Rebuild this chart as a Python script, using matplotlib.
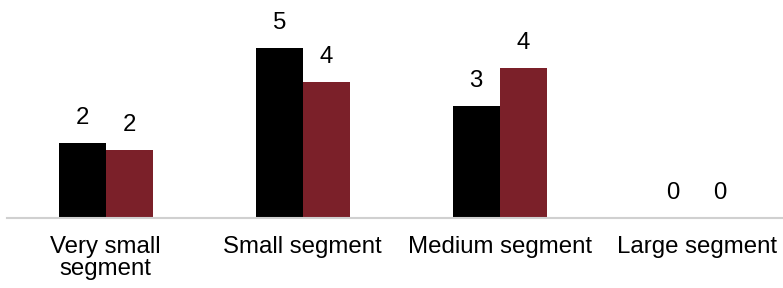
import matplotlib
matplotlib.use("Agg")
import matplotlib.pyplot as plt
import numpy as np

categories = ["Very small\nsegment", "Small segment", "Medium segment", "Large segment"]
series_a = [2.2, 5.0, 3.3, 0.0]
series_b = [2.0, 4.0, 4.4, 0.0]
labels_a = ["2", "5", "3", "0"]
labels_b = ["2", "4", "4", "0"]

plt.rcParams['font.family'] = ['Liberation Sans', 'DejaVu Sans']

W, H = 783, 288
fig = plt.figure(figsize=(W/100, H/100), dpi=100)
left_px = 7.2
group_px = 197.0
base_px = 217.7
ax = fig.add_axes([left_px/W, (H-base_px)/H, (W-left_px)/W, base_px/H])

x = np.arange(len(categories))
bw = 47.0/group_px
ax.bar(x - bw/2, series_a, width=bw, color="#000000")
ax.bar(x + bw/2, series_b, width=bw, color="#7B2029")

fs = 17.3
for xi, v, t in zip(x - bw/2, series_a, labels_a):
    ax.annotate(t, (xi, v), xytext=(0, 10), textcoords="offset points",
                ha="center", va="bottom", fontsize=fs, color="#000000")
for xi, v, t in zip(x + bw/2, series_b, labels_b):
    ax.annotate(t, (xi, v), xytext=(0, 10), textcoords="offset points",
                ha="center", va="bottom", fontsize=fs, color="#000000")

ax.set_xlim(-0.5, -0.5 + (W-left_px)/group_px)
ax.set_ylim(0, base_px/34.0)
ax.set_xticks(x)
ax.set_xticklabels(categories, fontsize=fs, linespacing=1.0)
ax.tick_params(axis="x", length=0, pad=13)
ax.set_yticks([])
for s in ["top", "right", "left"]:
    ax.spines[s].set_visible(False)
ax.spines["bottom"].set_color("#d0d0d0")
ax.spines["bottom"].set_linewidth(1.5)

fig.savefig("out.png", dpi=100)
